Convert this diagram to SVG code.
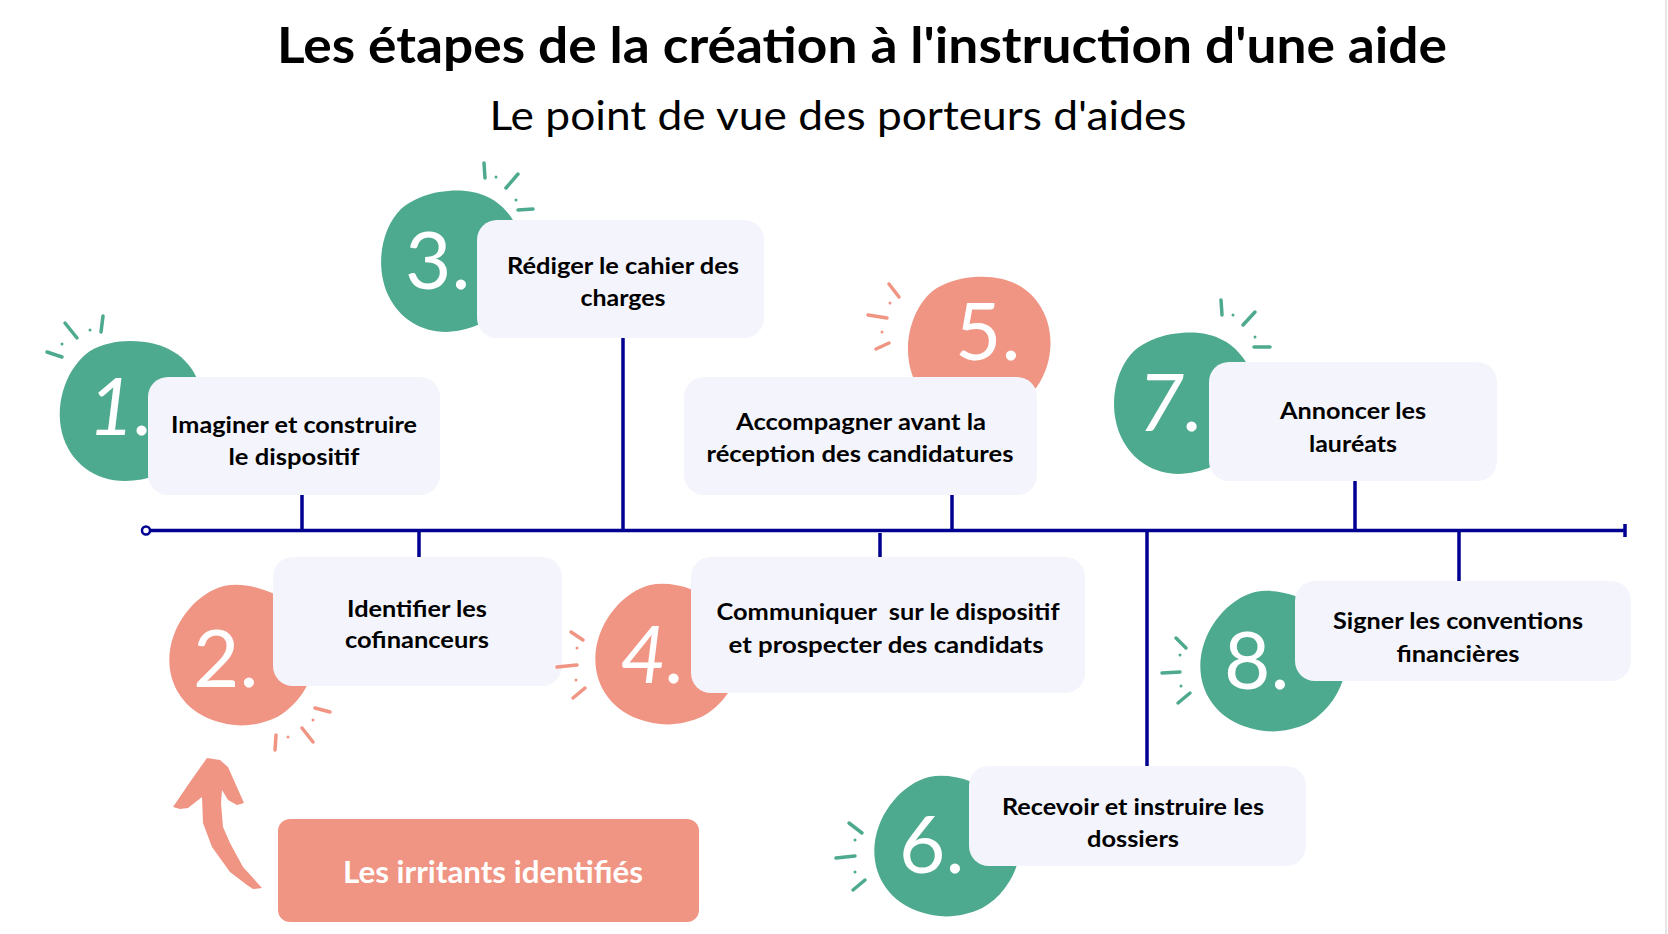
<svg xmlns="http://www.w3.org/2000/svg" xmlns:xlink="http://www.w3.org/1999/xlink" width="1668" height="934" viewBox="0 0 1668 934">
<style>
.title{font-family:Lato,"Noto Sans",sans-serif;font-weight:700;font-size:49px;fill:#000;text-anchor:middle}
.sub{font-family:Lato,"Noto Sans",sans-serif;font-weight:400;font-size:41px;fill:#000;text-anchor:middle}
.box{fill:#F4F5FC}
.lbl{font-family:Lato,"Noto Sans",sans-serif;font-weight:700;font-size:23px;fill:#000;text-anchor:middle}
.num{font-family:Lato,"Noto Sans",sans-serif;font-weight:400;font-size:80px;fill:#fff}
.g{fill:#4EAA8E}
.s{fill:#F09483}
.spk-g{stroke:#4EAA8E;stroke-width:3.5;stroke-linecap:round;fill:none}
.spk-s{stroke:#F09483;stroke-width:3.5;stroke-linecap:round;fill:none}
.ln{stroke:#000091;stroke-width:3.5;fill:none}
.irr{font-family:Lato,"Noto Sans",sans-serif;font-weight:700;font-size:31px;fill:#fff;text-anchor:middle}
</style>
<defs>
<path id="blob" d="M 0,-70 C 35,-70 58,-55 68,-30 C 78,-5 72,25 55,45 C 38,62 18,70 -5,70 C -35,70 -60,52 -68,22 C -76,-10 -62,-45 -40,-60 C -28,-67 -14,-70 0,-70 Z"/>
</defs>
<rect x="0" y="0" width="1668" height="934" fill="#fff"/>
<line x1="1666" y1="0" x2="1666" y2="934" stroke="#e6e6e6" stroke-width="2"/>

<text class="title" x="862" y="63" textLength="1170" lengthAdjust="spacingAndGlyphs">Les étapes de la création à l'instruction d'une aide</text>
<text class="sub" x="838" y="130" textLength="697" lengthAdjust="spacingAndGlyphs">Le point de vue des porteurs d'aides</text>

<g id="connectors">
<line class="ln" x1="146" y1="530.5" x2="1625" y2="530.5" stroke-width="3"/>
<circle cx="146" cy="530.5" r="4" fill="#fff" stroke="#000091" stroke-width="2.5"/>
<line class="ln" x1="1625" y1="524" x2="1625" y2="537" stroke-width="3"/>
<line class="ln" x1="302" y1="495" x2="302" y2="531"/>
<line class="ln" x1="419" y1="530" x2="419" y2="557"/>
<line class="ln" x1="623" y1="338" x2="623" y2="531"/>
<line class="ln" x1="880" y1="533" x2="880" y2="557"/>
<line class="ln" x1="952" y1="495" x2="952" y2="531"/>
<line class="ln" x1="1147" y1="530" x2="1147" y2="766"/>
<line class="ln" x1="1355" y1="481" x2="1355" y2="531"/>
<line class="ln" x1="1459" y1="530" x2="1459" y2="581"/>
</g>

<g id="step1">
<path class="spk-g" d="M65,323 L77,338 M103,316 L101,332 M47,352 L62,357"/>
<circle class="g" cx="90" cy="330" r="1.5"/><circle class="g" cx="62" cy="344" r="1.5"/>
<use href="#blob" class="g" transform="translate(130,411)"/>
<text class="num" x="88" y="435" font-style="italic">1.</text>
<rect class="box" x="148" y="377" width="292" height="118" rx="20"/>
<text class="lbl" x="294" y="433" textLength="246" lengthAdjust="spacingAndGlyphs">Imaginer et construire</text>
<text class="lbl" x="294" y="465" textLength="131" lengthAdjust="spacingAndGlyphs">le dispositif</text>
</g>

<g id="step2">
<path class="spk-s" d="M315,708 L330,712 M302,728 L313,742 M276,735 L275,750"/>
<circle class="s" cx="313" cy="720" r="1.5"/><circle class="s" cx="288" cy="737" r="1.5"/>
<use href="#blob" class="s" transform="translate(241,656) rotate(20)"/>
<text class="num" x="193" y="687">2.</text>
<rect class="box" x="273" y="557" width="289" height="129" rx="20"/>
<text class="lbl" x="417" y="617" textLength="140" lengthAdjust="spacingAndGlyphs">Identifier les</text>
<text class="lbl" x="417" y="648" textLength="144" lengthAdjust="spacingAndGlyphs">cofinanceurs</text>
</g>

<g id="step3">
<path class="spk-g" d="M484,163 L485,178 M518,174 L506,188 M518,210 L533,209"/>
<circle class="g" cx="496" cy="177" r="1.5"/><circle class="g" cx="516" cy="200" r="1.5"/>
<use href="#blob" class="g" transform="translate(451,261) rotate(-10)"/>
<text class="num" x="405" y="289">3.</text>
<rect class="box" x="477" y="220" width="287" height="118" rx="20"/>
<text class="lbl" x="623" y="274" textLength="232" lengthAdjust="spacingAndGlyphs">Rédiger le cahier des</text>
<text class="lbl" x="623" y="306" textLength="85" lengthAdjust="spacingAndGlyphs">charges</text>
</g>

<g id="step4">
<path class="spk-s" d="M571,632 L583,640 M557,667 L577,665 M573,698 L585,688"/>
<circle class="s" cx="577" cy="648" r="1.5"/><circle class="s" cx="576" cy="680" r="1.5"/>
<use href="#blob" class="s" transform="translate(667,655) rotate(20)"/>
<text class="num" x="620" y="683" font-style="italic">4.</text>
<rect class="box" x="691" y="557" width="394" height="136" rx="20"/>
<text class="lbl" x="888" y="620" xml:space="preserve" textLength="343" lengthAdjust="spacingAndGlyphs">Communiquer  sur le dispositif</text>
<text class="lbl" x="886" y="653" textLength="315" lengthAdjust="spacingAndGlyphs">et prospecter des candidats</text>
</g>

<g id="step5">
<path class="spk-s" d="M889,284 L899,297 M868,315 L887,318 M876,349 L889,343"/>
<circle class="s" cx="890" cy="303" r="1.5"/><circle class="s" cx="882" cy="332" r="1.5"/>
<use href="#blob" class="s" transform="translate(978,347) rotate(-5)"/>
<text class="num" x="955" y="360">5.</text>
<rect class="box" x="684" y="377" width="353" height="118" rx="20"/>
<text class="lbl" x="861" y="430" textLength="250" lengthAdjust="spacingAndGlyphs">Accompagner avant la</text>
<text class="lbl" x="860" y="462" textLength="307" lengthAdjust="spacingAndGlyphs">réception des candidatures</text>
</g>

<g id="step6">
<path class="spk-g" d="M849,823 L862,833 M836,858 L855,856 M853,890 L865,880"/>
<circle class="g" cx="855" cy="840" r="1.5"/><circle class="g" cx="855" cy="872" r="1.5"/>
<use href="#blob" class="g" transform="translate(946,847) rotate(20)"/>
<text class="num" x="899" y="873">6.</text>
<rect class="box" x="969" y="766" width="337" height="100" rx="20"/>
<text class="lbl" x="1133" y="815" textLength="262" lengthAdjust="spacingAndGlyphs">Recevoir et instruire les</text>
<text class="lbl" x="1133" y="847" textLength="92" lengthAdjust="spacingAndGlyphs">dossiers</text>
</g>

<g id="step7">
<path class="spk-g" d="M1221,300 L1222,315 M1255,312 L1243,325 M1254,347 L1270,347"/>
<circle class="g" cx="1233" cy="315" r="1.5"/><circle class="g" cx="1255" cy="337" r="1.5"/>
<use href="#blob" class="g" transform="translate(1184,403) rotate(-10)"/>
<text class="num" x="1138" y="431" font-style="italic">7.</text>
<rect class="box" x="1209" y="362" width="288" height="119" rx="20"/>
<text class="lbl" x="1353" y="419" textLength="146" lengthAdjust="spacingAndGlyphs">Annoncer les</text>
<text class="lbl" x="1353" y="452" textLength="88" lengthAdjust="spacingAndGlyphs">lauréats</text>
</g>

<g id="step8">
<path class="spk-g" d="M1176,638 L1186,648 M1162,673 L1180,672 M1178,703 L1190,693"/>
<circle class="g" cx="1180" cy="655" r="1.5"/><circle class="g" cx="1181" cy="686" r="1.5"/>
<use href="#blob" class="g" transform="translate(1272,662) rotate(20)"/>
<text class="num" x="1224" y="689">8.</text>
<rect class="box" x="1295" y="581" width="336" height="100" rx="20"/>
<text class="lbl" x="1458" y="629" textLength="250" lengthAdjust="spacingAndGlyphs">Signer les conventions</text>
<text class="lbl" x="1458" y="662" textLength="123" lengthAdjust="spacingAndGlyphs">financières</text>
</g>

<g id="irritants">
<path class="s" d="M207,758 L220,760 L228,767 L244,803 L237,805 L228,800 L222,790 L221,803 L223,827 L230,843 L243,867 L262,888 L253,889 L247,885 L230,872 L212,847 L203,823 L202,797 L188,808 L180,809 L173,807 L190,782 Z"/>
<rect class="s" x="278" y="819" width="421" height="103" rx="12"/>
<text class="irr" x="493" y="883" textLength="300" lengthAdjust="spacingAndGlyphs">Les irritants identifiés</text>
</g>
</svg>
